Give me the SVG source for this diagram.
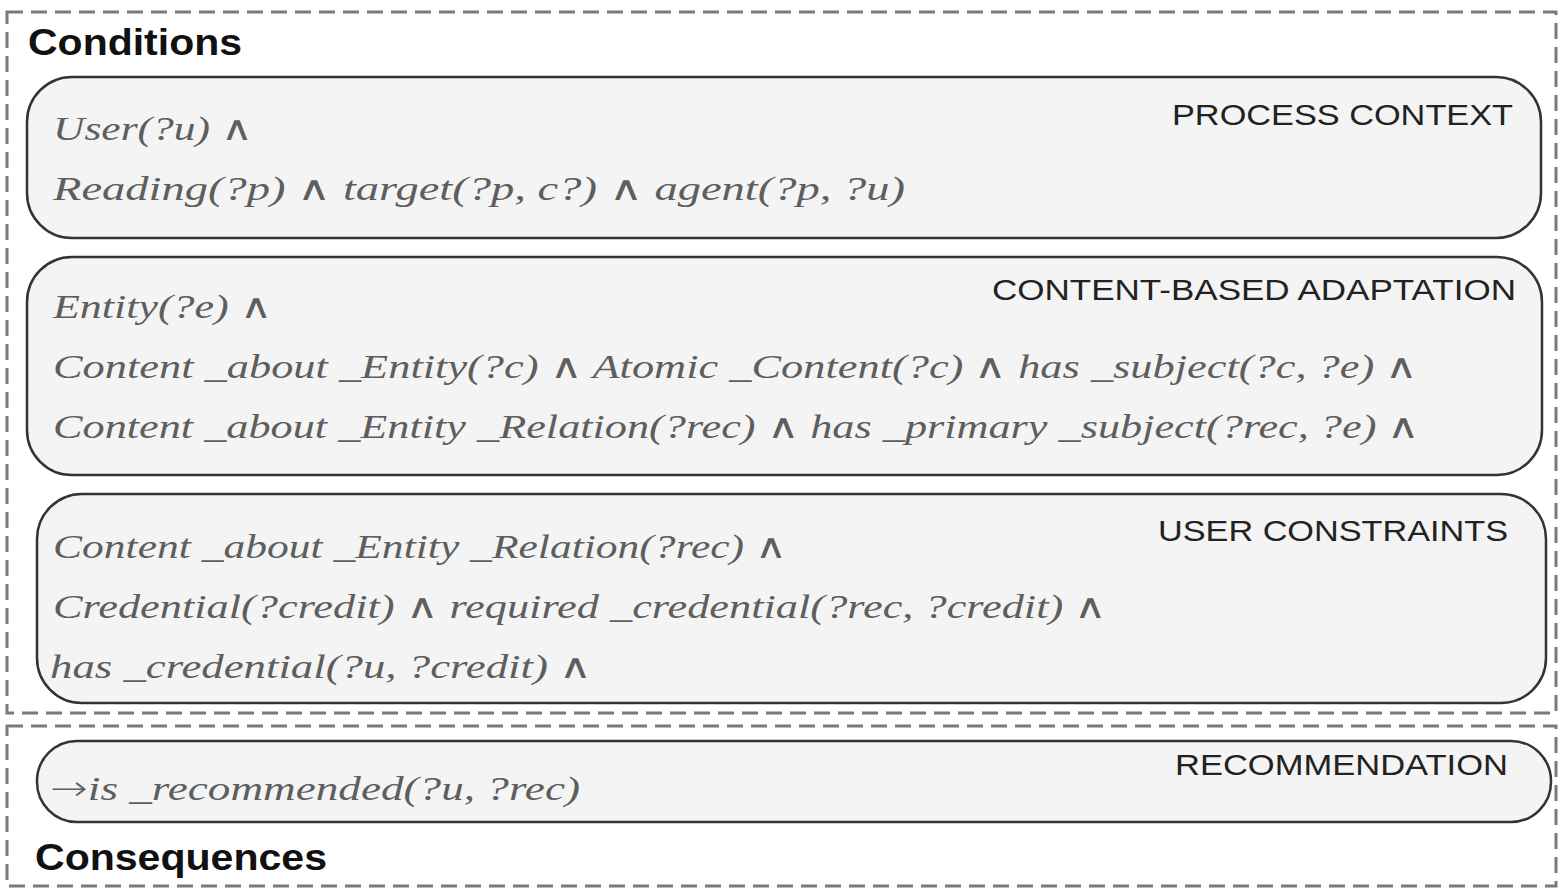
<svg xmlns="http://www.w3.org/2000/svg" width="1562" height="892" viewBox="0 0 1562 892">
<style>
.frame{fill:none;stroke:#7a7a7a;stroke-width:3;stroke-dasharray:16 8}
.box{fill:#f4f4f4;stroke:#333;stroke-width:2.5}
.title{font-family:"Liberation Sans",Arial,sans-serif;font-weight:bold;font-size:36px;fill:#111}
.lab{font-family:"Liberation Sans",Arial,sans-serif;font-size:30px;fill:#222;text-anchor:end}
.f{font-family:"Liberation Serif","Times New Roman",serif;font-style:italic;font-size:34px;fill:#5e5e5e}
.a{font-style:normal;font-family:"DejaVu Sans",sans-serif;font-weight:200}
</style>
<rect width="1562" height="892" fill="#fff"/>
<g id="conditions">
<rect class="frame" x="7" y="12" width="1549" height="701"/>
<text class="title" x="28" y="55" textLength="214" lengthAdjust="spacingAndGlyphs">Conditions</text>
</g>
<g id="consequences">
<rect class="frame" x="7" y="726" width="1549" height="160"/>
<text class="title" x="35" y="870" textLength="292" lengthAdjust="spacingAndGlyphs">Consequences</text>
</g>
<g id="process-context">
<rect class="box" x="27" y="77" width="1514" height="161" rx="45"/>
<text class="lab" x="1513" y="125" textLength="341" lengthAdjust="spacingAndGlyphs">PROCESS CONTEXT</text>
<text class="f" x="53" y="140" textLength="200" lengthAdjust="spacingAndGlyphs">User(?u) <tspan class="a">∧</tspan></text>
<text class="f" x="53" y="200" textLength="852" lengthAdjust="spacingAndGlyphs">Reading(?p) <tspan class="a">∧</tspan> target(?p, c?) <tspan class="a">∧</tspan> agent(?p, ?u)</text>
</g>
<g id="content-based-adaptation">
<rect class="box" x="27" y="257" width="1515" height="218" rx="45"/>
<text class="lab" x="1516" y="300" textLength="524" lengthAdjust="spacingAndGlyphs">CONTENT-BASED ADAPTATION</text>
<text class="f" x="53" y="318" textLength="219" lengthAdjust="spacingAndGlyphs">Entity(?e) <tspan class="a">∧</tspan></text>
<text class="f" x="53" y="378" textLength="1365" lengthAdjust="spacingAndGlyphs">Content _about _Entity(?c) <tspan class="a">∧</tspan> Atomic _Content(?c) <tspan class="a">∧</tspan> has _subject(?c, ?e) <tspan class="a">∧</tspan></text>
<text class="f" x="53" y="438" textLength="1367" lengthAdjust="spacingAndGlyphs">Content _about _Entity _Relation(?rec) <tspan class="a">∧</tspan> has _primary _subject(?rec, ?e) <tspan class="a">∧</tspan></text>
</g>
<g id="user-constraints">
<rect class="box" x="37" y="494" width="1509" height="209" rx="45"/>
<text class="lab" x="1508" y="541" textLength="350" lengthAdjust="spacingAndGlyphs">USER CONSTRAINTS</text>
<text class="f" x="53" y="558" textLength="734" lengthAdjust="spacingAndGlyphs">Content _about _Entity _Relation(?rec) <tspan class="a">∧</tspan></text>
<text class="f" x="53" y="618" textLength="1054" lengthAdjust="spacingAndGlyphs">Credential(?credit) <tspan class="a">∧</tspan> required _credential(?rec, ?credit) <tspan class="a">∧</tspan></text>
<text class="f" x="50" y="678" textLength="542" lengthAdjust="spacingAndGlyphs">has _credential(?u, ?credit) <tspan class="a">∧</tspan></text>
</g>
<g id="recommendation">
<rect class="box" x="37" y="741" width="1514" height="81" rx="40"/>
<text class="lab" x="1508" y="775" textLength="333" lengthAdjust="spacingAndGlyphs">RECOMMENDATION</text>
<text class="f" x="50" y="800" textLength="530" lengthAdjust="spacingAndGlyphs"><tspan class="a">→</tspan>is _recommended(?u, ?rec)</text>
</g>
<g id="connectors"/>
</svg>
